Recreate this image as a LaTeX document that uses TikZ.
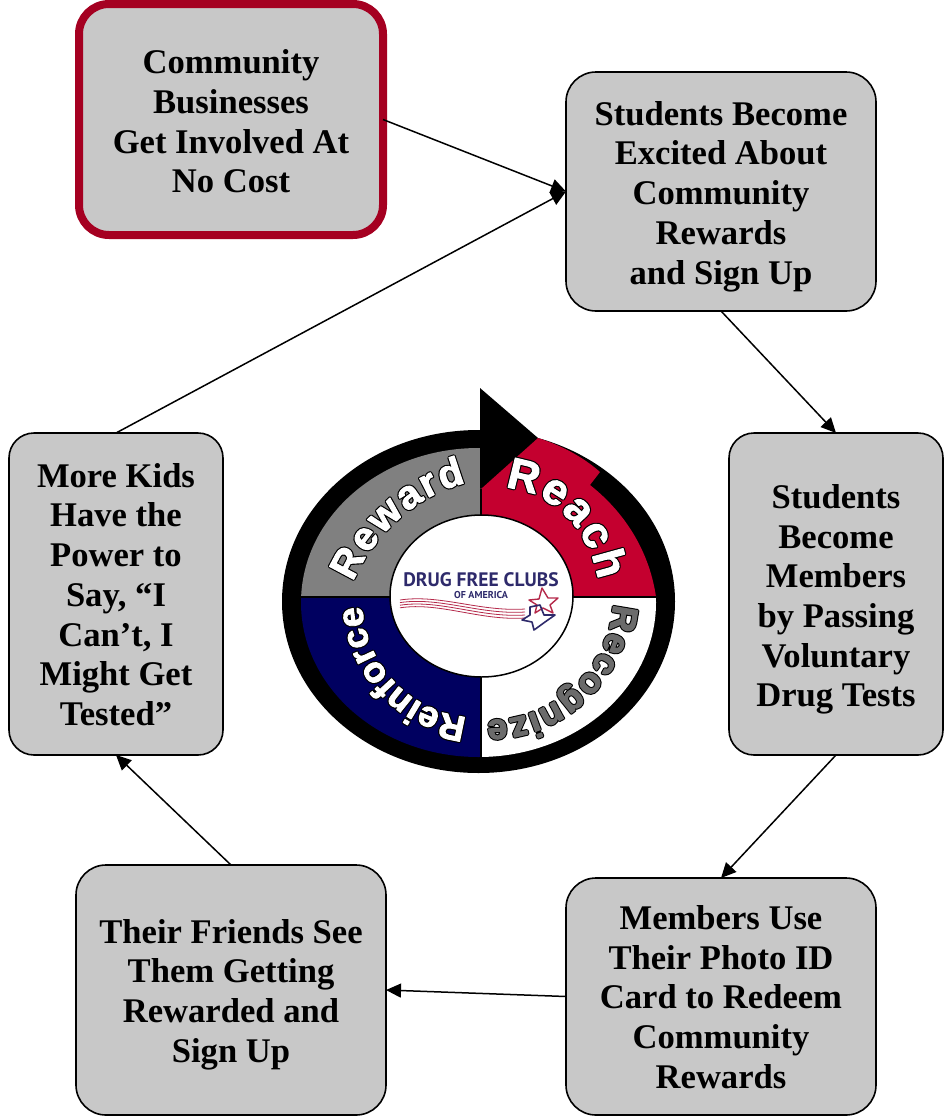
\documentclass[tikz,border=0pt]{standalone}
\usepackage{fontspec}
\setmainfont{Liberation Serif}
\newfontfamily\ringfont{Liberation Sans}
\newfontfamily\logofont{PT Sans}
\usetikzlibrary{arrows.meta,decorations.text}
\definecolor{boxgray}{HTML}{C8C8C8}
\definecolor{bordred}{HTML}{A50021}
\definecolor{reachred}{HTML}{C4002F}
\definecolor{navyq}{HTML}{000060}
\definecolor{logonavy}{HTML}{2E2A6B}
\definecolor{logored}{HTML}{B5294A}
\newcommand\rsize[1]{\ringfont\bfseries\fontsize{#1}{#1}\selectfont}
\newcommand\rback{\color{black}\special{pdf:code 0 0 0 RG 2 Tr 3.2 w 1 j}}
\newcommand\rwhite{\color{white}\special{pdf:code 1 1 1 RG 2 Tr 0.9 w 1 j}}
\newcommand\rgray{\color[gray]{0.42}\special{pdf:code 0.42 0.42 0.42 RG 2 Tr 1.1 w 1 j}}
\newcommand\ringword[4]{%
  \path[ringtext={|\rsize{#1}\rback|#3}] #4;
  \path[ringtext={|\rsize{#1}#2|#3}] #4;}
\tikzset{
  x=1pt,y=1pt,
  card/.style={draw=black,line width=1.6pt,fill=boxgray,rounded corners=30pt,inner sep=0pt,outer sep=0pt},
  widecard/.style={card,minimum width=310pt},
  tallcard/.style={card,rounded corners=25pt,minimum width=214pt,minimum height=322pt},
  cardtext/.style={inner sep=0pt,align=center,font=\bfseries\fontsize{34.6}{39.7}\selectfont},
  link/.style={draw=black,line width=1.5pt,-{Triangle[length=15pt,width=14pt]}},
  ringtext/.style={decorate,decoration={text along path,text align={fit to path},text={#1}}},
  sector/.style={draw=black,line width=1.2pt},
}
\begin{document}
\begin{tikzpicture}
\useasboundingbox (0,-1119) rectangle (951,0);
% boxes
\node[widecard,minimum width=304pt,minimum height=231pt,draw=bordred,line width=8pt] (A) at (231,-119.5) {};
\node[widecard,minimum height=239pt] (B) at (721,-191.5) {};
\node[tallcard] (C) at (836,-594) {};
\node[widecard,minimum height=237pt] (D) at (721,-996.5) {};
\node[widecard,minimum height=250pt] (E) at (231,-990) {};
\node[tallcard] (F) at (116,-594) {};
\node[cardtext] (At) at (231,-121.5) {Community\\Businesses\\Get Involved At\\No Cost};
\node[cardtext] (Bt) at (721,-196.5) {Students Become\\Excited About\\Community\\Rewards\\and Sign Up};
\node[cardtext] (Ct) at (836,-599.5) {Students\\Become\\Members\\by Passing\\Voluntary\\Drug Tests};
\node[cardtext] (Dt) at (721,-997) {Members Use\\Their Photo ID\\Card to Redeem\\Community\\Rewards};
\node[cardtext] (Et) at (231,-994.5) {Their Friends See\\Them Getting\\Rewarded and\\Sign Up};
\node[cardtext] (Ft) at (116,-594.5) {More Kids\\Have the\\Power to\\Say, “I\\Can’t, I\\Might Get\\Tested”};
% connectors
\draw[link] (A.east) -- (B.west);
\draw[link] (F.north) -- (B.west);
\draw[link] (B.south) -- (C.north);
\draw[link] (C.south) -- (D.north);
\draw[link] (D.west) -- (E.east);
\draw[link] (E.north) -- (F.south);
% ring
\fill[black] (478.5,-601.5) ellipse [x radius=196.5pt,y radius=171.5pt];
\begin{scope}
\clip (301,-448) rectangle (481,-597);
\fill[black!50] (478.5,-602.5) ellipse [x radius=177.5pt,y radius=154.5pt];
\end{scope}
\begin{scope}
\clip (301,-597) rectangle (481,-760);
\fill[navyq] (478.5,-602.5) ellipse [x radius=177.5pt,y radius=154.5pt];
\end{scope}
\begin{scope}
\clip (481,-597) rectangle (660,-760);
\fill[white] (478.5,-602.5) ellipse [x radius=177.5pt,y radius=154.5pt];
\end{scope}
\fill[black] (480,-388) -- (538,-438) -- (480,-489) -- cycle;
\fill[reachred] (481,-489) -- (538,-438)
  .. controls (560,-445) and (582,-456) .. (600,-472)
  -- (590,-485)
  .. controls (628,-515) and (650,-555) .. (656,-597)
  -- (481,-597) -- cycle;
\draw[sector] (301,-597) -- (656,-597);
\draw[sector] (481,-489) -- (481,-757);
% ring texts
\ringword{40}{\rwhite}{Reward}{(353,-582) .. controls (372,-537) and (415,-495) .. (466,-483)}
\ringword{44}{\rwhite}{Reach}{(505,-488) .. controls (552,-491) and (590,-530) .. (598,-580)}
\ringword{36}{\rgray}{Recognize}{(613,-604) .. controls (610,-665) and (555,-722) .. (487,-720)}
\ringword{36}{\rwhite}{Reinforce}{(467,-717) .. controls (410,-712) and (365,-665) .. (362,-606)}
% centre disc and logo
\filldraw[fill=white,draw=black,line width=1.5pt] (481.5,-596) ellipse [x radius=91.5pt,y radius=81pt];
\node[inner sep=0pt,text=logonavy,font=\logofont\bfseries\fontsize{19.5}{19.5}\selectfont] (logoa) at (481,-580) {DRUG FREE CLUBS};
\node[inner sep=0pt,text=logonavy,font=\logofont\bfseries\fontsize{10}{10}\selectfont] (logob) at (481,-595) {OF AMERICA};
\foreach \d in {0,1,2,3}
  \draw[logored,line width=0.8pt] (400,-600-\d*2.6) .. controls (440,-594-\d*2.6) and (480,-612-\d*3) .. (525,-609-\d*3);
\draw[logored,line width=1.4pt,line join=round] (542,-588) -- (548,-598) -- (558,-598) -- (550,-605) -- (553,-613) -- (543,-608) -- (535,-613) -- (537,-605) -- (529,-600) -- (539,-599) -- cycle;
\draw[logonavy,line width=1.6pt,line join=round] (530,-607) -- (540,-605) -- (544,-615) -- (555,-615) -- (545,-622) -- (534,-630) -- (532,-622) -- (522,-620) -- (530,-615) -- cycle;
\end{tikzpicture}
\end{document}
